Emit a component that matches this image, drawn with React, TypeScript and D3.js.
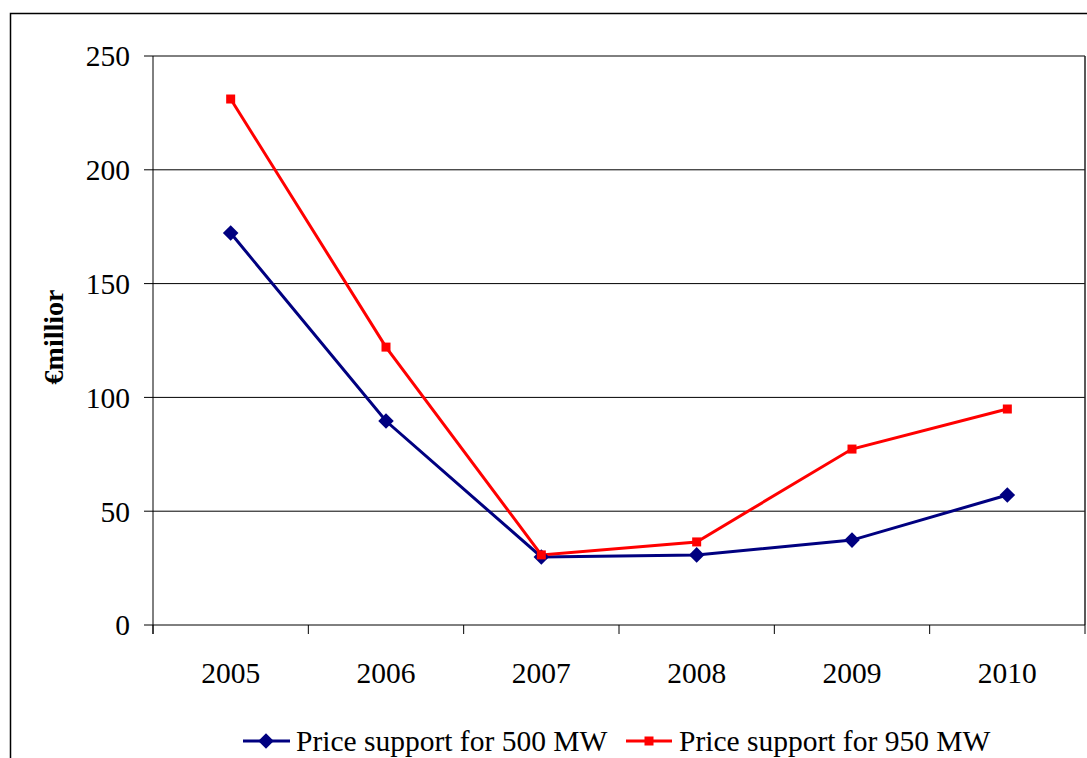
import React from "react";
import * as d3 from "d3";

const years = ["2005", "2006", "2007", "2008", "2009", "2010"];
const support500 = [172.2, 89.6, 29.9, 30.8, 37.3, 57.1];
const support950 = [231.1, 122.1, 30.8, 36.5, 77.3, 94.9];
const yTicks = [0, 50, 100, 150, 200, 250];
const seriesNames = ["Price support for 500 MW", "Price support for 950 MW"];

const W = 1087;
const H = 758;
const left = 153, right = 1085, top = 56, bottom = 625;
const font = "Liberation Serif, Times New Roman, serif";
const fs = 29.5;

const Diamond = ({ x, y }: { x: number; y: number }) => (
  <rect x={-5.5} y={-5.5} width={11} height={11} fill="#000080" transform={`translate(${x},${y}) rotate(45)`} />
);

export default function App() {
  const x = d3.scaleBand<string>().domain(years).range([left, right]).padding(0);
  const y = d3.scaleLinear().domain([0, 250]).range([bottom, top]);
  const cx = (d: string) => (x(d) as number) + x.bandwidth() / 2;
  const line = d3.line<number>().x((_, i) => cx(years[i])).y((v) => y(v));
  const boundaries = years.map((d) => x(d) as number).concat([right]);
  const ts = { fontFamily: font };

  return (
    <svg width={W} height={H} style={{ position: "absolute", left: 0, top: 0, background: "#fff" }}>
      <rect x={10.5} y={13.5} width={1100} height={800} fill="#fff" stroke="#000" strokeWidth={1.5} />
      {yTicks.map((t) => (
        <g key={t}>
          {t > 0 && <line x1={left} x2={right} y1={y(t)} y2={y(t)} stroke="#000" strokeWidth={1} />}
          <line x1={144} x2={left} y1={y(t)} y2={y(t)} stroke="#000" strokeWidth={1} />
          <text x={130} y={y(t)} dy="0.35em" textAnchor="end" fontSize={fs} fill="#000" style={ts}>{t}</text>
        </g>
      ))}
      <line x1={right} x2={right} y1={top} y2={bottom} stroke="#222" strokeWidth={1.5} />
      <line x1={left} x2={left} y1={top} y2={bottom + 9} stroke="#000" strokeWidth={1} />
      <line x1={left} x2={right} y1={bottom} y2={bottom} stroke="#000" strokeWidth={1} />
      {boundaries.map((b, i) => (
        <line key={i} x1={b} x2={b} y1={bottom} y2={bottom + 9} stroke="#000" strokeWidth={1} />
      ))}
      {years.map((d) => (
        <text key={d} x={cx(d)} y={683} textAnchor="middle" fontSize={fs} fill="#000" style={ts}>{d}</text>
      ))}
      <text transform="translate(63,337) rotate(-90)" textAnchor="middle" fontSize={28} fontWeight="bold" fill="#000" style={ts}>€millior</text>

      <path d={line(support500) as string} fill="none" stroke="#000080" strokeWidth={3} />
      <path d={line(support950) as string} fill="none" stroke="#ff0000" strokeWidth={3} />
      {support500.map((v, i) => (
        <Diamond key={i} x={cx(years[i])} y={y(v)} />
      ))}
      {support950.map((v, i) => (
        <rect key={i} x={cx(years[i]) - 4.5} y={y(v) - 4.5} width={9} height={9} fill="#ff0000" />
      ))}

      <g>
        <line x1={243} x2={290} y1={741} y2={741} stroke="#000080" strokeWidth={3} />
        <Diamond x={266} y={741} />
        <text x={296} y={741} dy="0.35em" fontSize={fs} fill="#000" style={ts}>{seriesNames[0]}</text>
        <line x1={626} x2={672} y1={741} y2={741} stroke="#ff0000" strokeWidth={3} />
        <rect x={644.5} y={736.5} width={9} height={9} fill="#ff0000" />
        <text x={679} y={741} dy="0.35em" fontSize={fs} fill="#000" style={ts}>{seriesNames[1]}</text>
      </g>
    </svg>
  );
}
